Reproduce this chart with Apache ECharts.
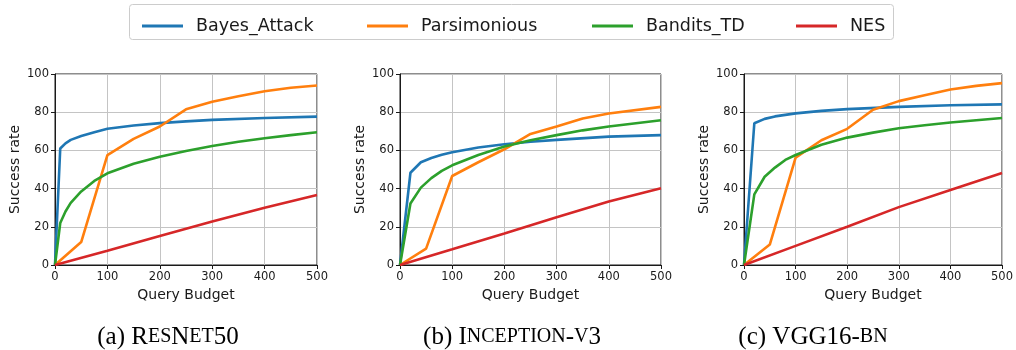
<!DOCTYPE html>
<html>
<head>
<meta charset="utf-8">
<script src="https://cdn.jsdelivr.net/npm/echarts@6/dist/echarts.min.js"></script>
<style>html,body{margin:0;padding:0;background:#fff}#c{width:1016px;height:350px}</style>
</head>
<body>
<div id="c"></div>
<script>
// ---- data ----
const methods = ['Bayes_Attack', 'Parsimonious', 'Bandits_TD', 'NES'];
const xTicks = [0, 100, 200, 300, 400, 500];
const yTicks = [0, 20, 40, 60, 80, 100];

// (a) ResNet50
const bayesX_a = [0, 10, 20, 30, 50, 75, 100, 150, 200, 250, 300, 400, 500];
const bayesY_a = [0, 61, 63.7, 65.5, 67.5, 69.5, 71.3, 73, 74.3, 75.2, 76, 77, 77.7];
const parsX_a = [0, 50, 100, 150, 200, 250, 300, 350, 400, 450, 500];
const parsY_a = [0, 12, 57.5, 66, 72.5, 81.5, 85.5, 88.3, 91, 92.8, 94];
const banditsX_a = [0, 10, 20, 30, 50, 75, 100, 150, 200, 250, 300, 350, 400, 450, 500];
const banditsY_a = [0, 22, 28, 32.5, 38.5, 44, 48, 53, 56.7, 59.7, 62.3, 64.5, 66.4, 68, 69.5];
const nesX_a = [0, 100, 200, 300, 400, 500];
const nesY_a = [0, 7.5, 15.2, 22.8, 30, 36.6];

// (b) Inception-v3
const bayesX_b = [0, 20, 40, 60, 80, 100, 150, 200, 250, 300, 400, 500];
const bayesY_b = [0, 48.3, 53.8, 56, 57.7, 59, 61.5, 63.2, 64.5, 65.5, 67.2, 68];
const parsX_b = [0, 50, 100, 150, 200, 250, 300, 350, 400, 500];
const parsY_b = [0, 8.6, 46.6, 53.8, 60.6, 68.6, 72.5, 76.7, 79.3, 82.8];
const banditsX_b = [0, 20, 40, 60, 80, 100, 150, 200, 250, 300, 350, 400, 500];
const banditsY_b = [0, 32.2, 40.5, 45.5, 49.3, 52.2, 57.6, 62, 65.3, 68, 70.5, 72.5, 75.8];
const nesX_b = [0, 100, 200, 300, 400, 500];
const nesY_b = [0, 8.2, 16.5, 25, 33.3, 40.2];

// (c) VGG16-bn
const bayesX_c = [0, 20, 40, 60, 100, 150, 200, 300, 400, 500];
const bayesY_c = [0, 74.2, 76.5, 77.8, 79.4, 80.7, 81.6, 82.8, 83.6, 84.1];
const parsX_c = [0, 50, 100, 150, 200, 250, 300, 350, 400, 450, 500];
const parsY_c = [0, 10.7, 56.2, 65.3, 71.3, 81.3, 85.8, 88.9, 91.9, 93.8, 95.2];
const banditsX_c = [0, 20, 40, 60, 80, 100, 150, 200, 250, 300, 350, 400, 450, 500];
const banditsY_c = [0, 37, 46.2, 51, 55, 57.6, 63, 66.7, 69.3, 71.6, 73.2, 74.6, 75.8, 77];
const nesX_c = [0, 100, 200, 300, 400, 500];
const nesY_c = [0, 10, 20, 30.3, 39.3, 48.2];

const panels = [
  [[bayesX_a, bayesY_a], [parsX_a, parsY_a], [banditsX_a, banditsY_a], [nesX_a, nesY_a]],
  [[bayesX_b, bayesY_b], [parsX_b, parsY_b], [banditsX_b, banditsY_b], [nesX_b, nesY_b]],
  [[bayesX_c, bayesY_c], [parsX_c, parsY_c], [banditsX_c, banditsY_c], [nesX_c, nesY_c]]
];
const xLabel = 'Query Budget';
const yLabel = 'Success rate';

// ---- layout / style ----
const colors = ['#1f77b4', '#ff7f0e', '#2ca02c', '#d62728'];
const FONT = 'DejaVu Sans';
const gridLefts = [55, 400, 744];
const gridW = [262, 261, 262];
const gridTop = 74, gridH = 191;

const grids = [], xAxes = [], yAxes = [], series = [];
panels.forEach((panel, i) => {
  grids.push({left: gridLefts[i], top: gridTop, width: gridW[i], height: gridH,
    show: true, borderColor: '#1a1a1a', borderWidth: 1, backgroundColor: 'transparent'});
  xAxes.push({type: 'value', gridIndex: i, min: xTicks[0], max: xTicks[xTicks.length - 1], interval: 100,
    name: xLabel, nameLocation: 'middle', nameGap: 18,
    nameTextStyle: {fontFamily: FONT, fontSize: 14, color: '#1a1a1a'},
    axisLine: {show: true, lineStyle: {color: '#1a1a1a', width: 1}},
    axisTick: {show: true, inside: false, length: 4, lineStyle: {color: '#1a1a1a'}},
    axisLabel: {fontFamily: FONT, fontSize: 11.5, color: '#1a1a1a', margin: 6},
    splitLine: {show: true, lineStyle: {color: '#c4c4c4', width: 1}}});
  yAxes.push({type: 'value', gridIndex: i, min: yTicks[0], max: yTicks[yTicks.length - 1], interval: 20,
    name: yLabel, nameLocation: 'middle', nameGap: 33, nameRotate: 90,
    nameTextStyle: {fontFamily: FONT, fontSize: 14, color: '#1a1a1a'},
    axisLine: {show: true, lineStyle: {color: '#1a1a1a', width: 1}},
    axisTick: {show: true, inside: false, length: 4, lineStyle: {color: '#1a1a1a'}},
    axisLabel: {fontFamily: FONT, fontSize: 11.5, color: '#1a1a1a', margin: 6},
    splitLine: {show: true, lineStyle: {color: '#c4c4c4', width: 1}}});
  panel.forEach((s, k) => {
    series.push({type: 'line', name: methods[k], xAxisIndex: i, yAxisIndex: i,
      data: s[0].map((x, j) => [x, s[1][j]]),
      showSymbol: false, symbol: 'none', smooth: false,
      lineStyle: {color: colors[k], width: 2.6}, itemStyle: {color: colors[k]},
      z: 2 + k});
  });
});

const legendLefts = [137, 362, 587, 791];
const legends = methods.map((m, k) => ({
  data: [m], left: legendLefts[k], top: 12, icon: 'rect', itemWidth: 41, itemHeight: 3,
  selectedMode: false,
  textStyle: {fontFamily: FONT, fontSize: 17.5, color: '#1a1a1a', padding: [0, 0, 0, 8]}
}));

const capStyle = {
  b: {fontFamily: 'Liberation Serif', fontSize: 25, color: '#111'},
  s: {fontFamily: 'Liberation Serif', fontSize: 20, color: '#111'}
};
const captions = [
  {x: 168, text: '{b|(a) R}{s|ES}{b|N}{s|ET}{b|50}'},
  {x: 512, text: '{b|(b) I}{s|NCEPTION}{b|-}{s|V}{b|3}'},
  {x: 813, text: '{b|(c) VGG16-}{s|BN}'}
];

const chart = echarts.init(document.getElementById('c'), null, {renderer: 'canvas'});
chart.setOption({
  animation: false,
  backgroundColor: '#fff',
  color: colors,
  grid: grids, xAxis: xAxes, yAxis: yAxes, series: series,
  legend: legends,
  graphic: [
    {type: 'rect', shape: {x: 129.5, y: 4.5, width: 764, height: 35, r: 3},
      style: {fill: '#fff', stroke: '#cccccc', lineWidth: 1}, z: -1, silent: true}
  ].concat(captions.map(c => ({
    type: 'text', x: c.x, y: 337,
    style: {text: c.text, rich: capStyle, align: 'center', verticalAlign: 'middle'}, silent: true
  })))
});
</script>
</body>
</html>
